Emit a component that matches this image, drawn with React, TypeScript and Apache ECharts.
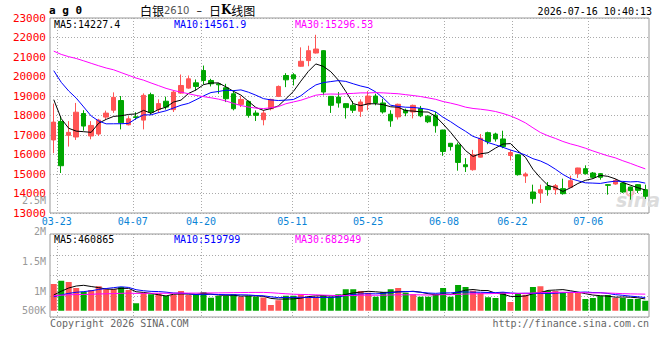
import React, { useEffect, useRef } from 'react';
import * as echarts from 'echarts';

// ---------- data ----------
const dates = [
  '03-20',
  '03-23', '03-24', '03-25', '03-26', '03-27',
  '03-30', '03-31', '04-01', '04-02', '04-03',
  '04-07', '04-08', '04-09', '04-10',
  '04-13', '04-14', '04-15', '04-16', '04-17',
  '04-20', '04-21', '04-22', '04-23', '04-24',
  '04-27', '04-28', '04-29', '04-30',
  '05-06', '05-07', '05-08',
  '05-11', '05-12', '05-13', '05-14', '05-15',
  '05-18', '05-19', '05-20', '05-21', '05-22',
  '05-25', '05-26', '05-27', '05-28', '05-29',
  '06-01', '06-02', '06-03', '06-04', '06-05',
  '06-08', '06-09', '06-10', '06-11', '06-12',
  '06-15', '06-16', '06-17', '06-18',
  '06-22', '06-23', '06-24', '06-25', '06-26',
  '06-29', '06-30', '07-01', '07-02', '07-03',
  '07-06', '07-07', '07-08', '07-09', '07-10',
  '07-13', '07-14', '07-15', '07-16',
];

const opens = [
  16746, 17695, 16983, 16898, 18102, 16949, 17051, 17918, 18271, 18767,
  17525, 17932, 17763, 19068, 18305, 18732, 18300, 19148, 19404, 19676,
  20307, 19796, 19625, 19421, 19114, 18569, 18722, 18126, 17785, 18347,
  18978, 20051, 20085, 20526, 20815, 21205, 21324, 18981, 18947, 18608,
  18523, 18217, 18574, 18998, 18642, 18065, 17929, 18268, 18180, 18356,
  17966, 18017, 17254, 16576, 16492, 15475, 15220, 15864, 17119, 17051,
  16797, 15949, 15983, 14898, 14077, 14026, 14368, 14197, 14248, 14316,
  15017, 15274, 15051, 15017, 14453, 14487, 14538, 14333, 14453, 14197,
];
const closes = [
  17661, 15424, 17136, 18169, 17458, 17491, 17763, 18122, 18932, 17627,
  17830, 17900, 19033, 18169, 18610, 18430, 19200, 19540, 19881, 19489,
  19796, 19625, 19574, 18859, 18347, 18824, 18007, 18007, 18126, 18824,
  19489, 19830, 19881, 20781, 21324, 21409, 19202, 18523, 18642, 18404,
  18268, 18693, 18998, 18642, 18183, 17725, 18574, 18132, 18520, 17983,
  17678, 17475, 16153, 16407, 15593, 15373, 15983, 16831, 16661, 16797,
  16407, 16102, 14966, 15000, 13735, 14197, 14197, 14402, 13991, 14658,
  15308, 15017, 14829, 14829, 14419, 14675, 14077, 14145, 14162, 13855,
];
const lows = [
  16068, 15051, 16407, 16746, 17220, 16780, 16949, 17800, 18136, 17288,
  17491, 17780, 17288, 18034, 18136, 18305, 18180, 19114, 19370, 19284,
  19591, 19489, 19114, 18688, 18262, 18433, 17888, 17717, 17496, 18262,
  18944, 19455, 19542, 20500, 20526, 21180, 19032, 18132, 18404, 17844,
  18132, 17929, 18268, 18523, 18098, 17419, 17793, 17963, 17850, 17915,
  17610, 17119, 15932, 16203, 15169, 15102, 15169, 15847, 16525, 16661,
  16322, 15695, 14915, 14542, 13479, 13513, 13889, 13940, 13940, 14316,
  14795, 14966, 14761, 14709, 13940, 14453, 14026, 13684, 14026, 13718,
];
const highs = [
  18610, 17966, 17712, 18644, 18271, 17712, 17830, 18250, 19186, 19000,
  17966, 18169, 19135, 19170, 18830, 18966, 19290, 20102, 20051, 19847,
  20562, 19881, 19676, 19625, 19284, 18995, 18773, 18262, 18262, 18858,
  19540, 20170, 20170, 21494, 21579, 22139, 21350, 18990, 19202, 18620,
  18744, 18829, 19253, 19117, 18862, 18268, 18608, 18353, 18560, 18491,
  18017, 18186, 17270, 16590, 16610, 15814, 16237, 17051, 17170, 17119,
  17220, 16237, 16017, 15085, 14453, 14453, 14590, 14487, 14761, 14915,
  15320, 15444, 15103, 15051, 14470, 14744, 14555, 14350, 14487, 14453,
];
const volumes = [
  1070000, 1200000, 1150000, 910000, 760000, 830000, 980000, 860000, 860000, 950000,
  830000, 300000, 720000, 660000, 690000, 590000, 640000, 790000, 630000, 640000,
  750000, 520000, 590000, 590000, 660000, 560000, 590000, 560000, 530000, 230000,
  420000, 600000, 600000, 650000, 560000, 560000, 630000, 560000, 660000, 860000,
  860000, 790000, 720000, 560000, 750000, 860000, 910000, 720000, 660000, 560000,
  560000, 660000, 910000, 560000, 1030000, 950000, 800000, 720000, 540000, 510000,
  750000, 350000, 710000, 640000, 950000, 980000, 790000, 790000, 720000, 720000,
  720000, 470000, 510000, 590000, 630000, 510000, 510000, 470000, 470000, 400000,
];
// estimated sessions before the visible window (only feed the moving averages)
const closesBefore = [
  20400, 20700, 20900, 21100, 21300, 21500, 21600, 21700, 21900, 22050,
  22100, 22300, 22500, 22700, 22600, 22400, 22200, 22300, 22000, 21750,
  21400, 21600, 21800, 22000, 22140, 20300, 19600, 18900, 17600,
];
const volumesBefore = [
  580000, 640000, 600000, 660000, 620000, 590000, 650000, 610000, 630000, 600000,
  660000, 620000, 580000, 640000, 610000, 630000, 600000, 650000, 620000, 610000,
  480000, 520000, 470000, 500000, 480000, 450000, 500000, 510000, 620000,
];

const priceMin = 13000;
const priceMax = 23000;
const priceStep = 1000;
const dateTickLabels = ['03-23', '04-07', '04-20', '05-11', '05-25', '06-08', '06-22', '07-06'];
const volTickLabels = ['2.5M', '2M', '1.5M', '1M', '500K'];
const maPeriods = [5, 10, 30];
const priceMaLabels = ['MA5:14227.4', 'MA10:14561.9', 'MA30:15296.53'];
const volMaLabels = ['MA5:460865', 'MA10:519799', 'MA30:682949'];
const titleCode = 'a g 0';
const titleName = '白银';
const titleContract = '2610';
const timestamp = '2026-07-16 10:40:13';
const copyright = 'Copyright 2026 SINA.COM';
const siteUrl = 'http://finance.sina.com.cn';

// ---------- styles / layout ----------
const RED = '#ff5555';
const GREEN = '#00a600';
const MA_COLORS = ['#000000', '#0000ff', '#ff00ff'];
const MONO = '"DejaVu Sans Mono", "Liberation Mono", monospace';
const GRID_LINE = { color: '#aaaaaa', type: [1, 2] as number[], width: 1 };
const PLOT_LEFT = 50;
const PLOT_WIDTH = 599;
const LEGEND_X = [54, 174, 295];
const VOL_LABEL_Y = [200.5, 231, 261, 291, 310];

function movingAverage(before: number[], values: number[], n: number): number[] {
  const all = before.concat(values);
  const off = before.length;
  return values.map((_, i) => {
    let s = 0;
    for (let j = off + i - n + 1; j <= off + i; j++) s += all[j];
    return Math.round((s / n) * 100) / 100;
  });
}

export default function App() {
  const ref = useRef<HTMLDivElement>(null);

  useEffect(() => {
    if (!ref.current) return;
    const chart = echarts.init(ref.current, undefined, { renderer: 'svg' });

    const dateIdx = dateTickLabels.map((d) => dates.indexOf(d));
    const candleData = opens.map((o, i) => [o, closes[i], lows[i], highs[i]]);
    const volData = volumes.map((v, i) => ({
      value: v,
      itemStyle: { color: closes[i] >= opens[i] ? RED : GREEN },
    }));

    const priceMaSeries = maPeriods.map((n, k) => ({
      type: 'line',
      name: 'MA' + n,
      xAxisIndex: 0,
      yAxisIndex: 0,
      data: movingAverage(closesBefore, closes, n),
      symbol: 'none',
      z: 5,
      lineStyle: { width: 1, color: MA_COLORS[k] },
      silent: true,
    }));
    const volMaSeries = maPeriods.map((n, k) => ({
      type: 'line',
      name: 'VMA' + n,
      xAxisIndex: 2,
      yAxisIndex: 1,
      data: movingAverage(volumesBefore, volumes, n),
      symbol: 'none',
      z: 5,
      lineStyle: { width: 1, color: MA_COLORS[k] },
      silent: true,
    }));

    const hiddenCat = (gridIndex: number) => ({
      type: 'category',
      gridIndex,
      data: dates,
      boundaryGap: true,
      axisLine: { show: false },
      axisTick: { show: false },
      axisLabel: { show: false },
      splitLine: { show: false },
    });
    const dateAxis = (gridIndex: number, showLabel: boolean) => ({
      type: 'value',
      gridIndex,
      position: 'bottom',
      min: 0.1,
      max: 79,
      axisLine: { show: false },
      axisTick: { show: false, customValues: dateIdx },
      axisLabel: {
        show: showLabel,
        customValues: dateIdx,
        formatter: (v: number) => dates[Math.round(v)],
        color: '#0a84d6',
        fontSize: 10,
        fontFamily: MONO,
        margin: 3,
      },
      splitLine: { show: true, lineStyle: GRID_LINE },
    });

    const graphics: any[] = [
      {
        type: 'text', left: 49, top: 5, z: 10,
        style: { text: titleCode, font: 'bold 11px ' + MONO, fill: '#000' },
      },
      {
        type: 'text', left: 140, top: 4, z: 10,
        style: {
          text: '{c|' + titleName + '}{n|' + titleContract + '}{d|  –  }{c|日}{k|K}{c|线图}',
          rich: {
            c: { fontFamily: '"Noto Sans CJK SC"', fontSize: 12, fill: '#000' },
            n: { fontFamily: '"DejaVu Sans"', fontSize: 10, fill: '#555' },
            d: { fontFamily: '"DejaVu Sans"', fontSize: 11, fill: '#000' },
            k: { fontFamily: '"DejaVu Serif"', fontWeight: 'bold', fontSize: 12, fill: '#000' },
          },
        },
      },
      {
        type: 'text', right: 8, top: 6, z: 10,
        style: { text: timestamp, font: '10px ' + MONO, fill: '#000' },
      },
      {
        type: 'text', left: 50, top: 318, z: 10,
        style: { text: copyright, font: '10px ' + MONO, fill: '#666' },
      },
      {
        type: 'text', right: 11, top: 318, z: 10,
        style: { text: siteUrl, font: '10px ' + MONO, fill: '#666' },
      },
      {
        type: 'text', left: 616, top: 190, z: 1,
        style: { text: 'sina', font: 'italic bold 19px "DejaVu Sans"', fill: '#dcdcdc' },
      },
      {
        type: 'ring', shape: { cx: 630, cy: 192, r: 4.5, r0: 2.5 }, z: 1,
        style: { fill: '#f2b8b8' },
      },
    ];
    priceMaLabels.forEach((t, k) => {
      graphics.push({
        type: 'text', x: LEGEND_X[k], y: 24, z: 10,
        style: { text: t, font: '10px ' + MONO, fill: MA_COLORS[k], verticalAlign: 'middle' },
      });
    });
    volMaLabels.forEach((t, k) => {
      graphics.push({
        type: 'text', x: LEGEND_X[k], y: 239, z: 10,
        style: { text: t, font: '10px ' + MONO, fill: MA_COLORS[k], verticalAlign: 'middle' },
      });
    });
    volTickLabels.forEach((t, k) => {
      graphics.push({
        type: 'text', x: 46, y: VOL_LABEL_Y[k], z: 10,
        style: { text: t, font: '10px ' + MONO, fill: '#999', align: 'right', verticalAlign: 'middle' },
      });
    });

    const option: any = {
      animation: false,
      backgroundColor: '#ffffff',
      grid: [
        { left: PLOT_LEFT, top: 18, width: PLOT_WIDTH, height: 195, show: true, borderColor: '#999', borderWidth: 1, backgroundColor: 'transparent' },
        { left: PLOT_LEFT, top: 234, width: PLOT_WIDTH, height: 83, show: true, borderColor: '#999', borderWidth: 1, backgroundColor: 'transparent' },
      ],
      xAxis: [hiddenCat(0), dateAxis(0, true), hiddenCat(1), dateAxis(1, false)],
      yAxis: [
        {
          type: 'value', gridIndex: 0, min: priceMin, max: priceMax, interval: priceStep,
          axisLine: { show: false }, axisTick: { show: false },
          axisLabel: {
            color: '#ff0000', fontSize: 11, fontFamily: MONO, margin: 4, padding: [0, 0, 3, 0],
            formatter: (v: number) => String(v),
          },
          splitLine: { show: true, lineStyle: GRID_LINE },
        },
        { type: 'value', gridIndex: 1, min: -250000, max: 3070000, show: false, splitLine: { show: false } },
        {
          type: 'value', gridIndex: 1, min: 0, max: 4, interval: 1,
          axisLine: { show: false }, axisTick: { show: false }, axisLabel: { show: false },
          splitLine: { show: true, lineStyle: GRID_LINE },
        },
      ],
      series: [
        {
          type: 'candlestick',
          xAxisIndex: 0,
          yAxisIndex: 0,
          data: candleData,
          barWidth: 5,
          z: 3,
          silent: true,
          itemStyle: { color: RED, color0: GREEN, borderColor: RED, borderColor0: GREEN, borderWidth: 1 },
        },
        ...priceMaSeries,
        {
          type: 'bar',
          xAxisIndex: 2,
          yAxisIndex: 1,
          data: volData,
          barWidth: 6,
          z: 3,
          silent: true,
        },
        ...volMaSeries,
      ],
      graphic: graphics,
    };

    chart.setOption(option);
    return () => chart.dispose();
  }, []);

  return (
    <div
      ref={ref}
      style={{ position: 'absolute', left: 0, top: 0, width: 660, height: 360, background: '#fff' }}
    />
  );
}
